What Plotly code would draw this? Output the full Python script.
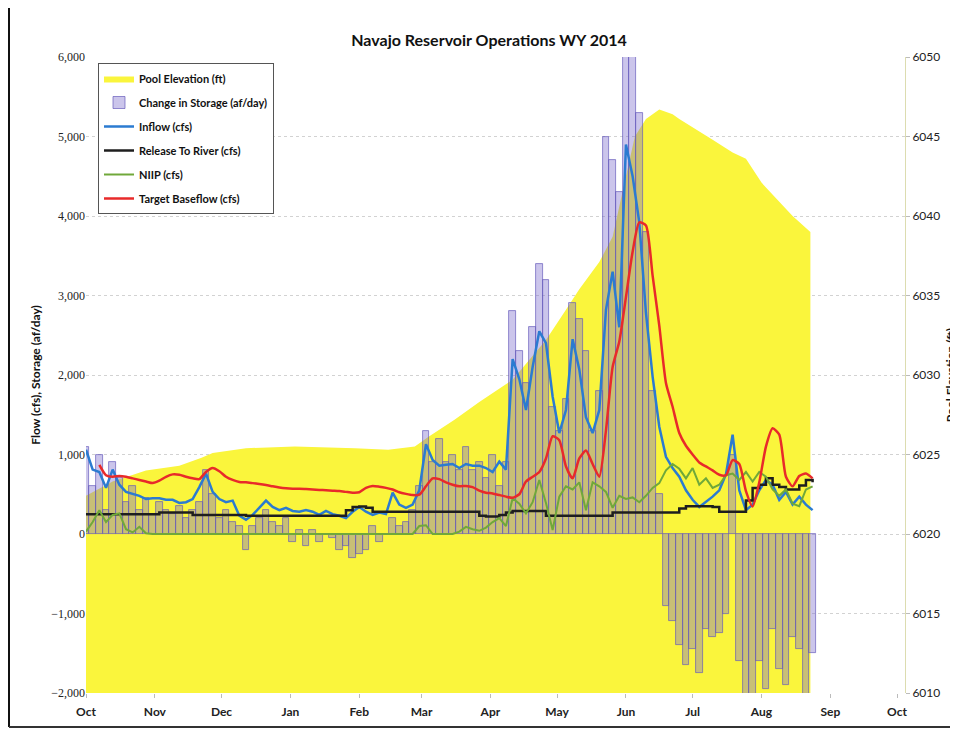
import pandas as pd
import plotly.graph_objects as go

# ---------------- data ----------------
# series sampled every 3 days from 2013-10-01
dates = pd.date_range("2013-10-01", periods=110, freq="3D")

inflow = [
    1060, 810, 780, 580, 810, 620, 530, 500, 480, 440,
    450, 450, 430, 430, 390, 400, 440, 590, 760, 530,
    440, 400, 420, 230, 180, 240, 330, 420, 340, 300,
    330, 290, 280, 300, 280, 240, 290, 250, 230, 200,
    280, 340, 280, 240, 270, 250, 520, 370, 330, 370,
    550, 1130, 930, 860, 870, 880, 830, 880, 860, 860,
    830, 780, 910, 810, 2200, 1950, 1560, 2100, 2550, 2400,
    1730, 1270, 1560, 2450, 2070, 1470, 1270, 1560, 2820, 3300,
    2600, 4900, 4500, 3920, 2780, 1980, 1350, 970, 830, 720,
    550, 430, 340, 400, 470, 550, 750, 1250, 550, 300,
    370, 550, 680, 620, 430, 530, 370, 470, 370, 300,
]

release = [
    250, 250, 250, 250, 250, 250, 250, 250, 250, 250,
    250, 270, 270, 270, 270, 270, 240, 240, 240, 240,
    240, 240, 240, 240, 230, 230, 230, 230, 230, 230,
    230, 230, 230, 230, 230, 230, 230, 230, 230, 300,
    340, 345, 330, 280, 280, 280, 280, 280, 280, 280,
    280, 280, 280, 280, 280, 280, 280, 280, 280, 230,
    220, 220, 240, 270, 290, 290, 290, 290, 290, 230,
    230, 230, 230, 230, 230, 230, 230, 230, 230, 270,
    270, 270, 270, 270, 270, 270, 270, 270, 270, 320,
    350, 350, 350, 350, 340, 280, 280, 280, 280, 420,
    580, 620, 700, 620, 590, 560, 560, 610, 680, 650,
]

niip = [
    30, 150, 300, 150, 240, 260, 60, 20, 90, 10,
    0, 0, 0, 0, 0, 0, 0, 0, 0, 0,
    0, 0, 0, 0, 0, 0, 0, 0, 0, 0,
    0, 0, 0, 0, 0, 0, 0, 0, 0, 0,
    0, 0, 0, 0, 0, 0, 0, 0, 0, 0,
    100, 110, 0, 0, 0, 0, 30, 90, 60, 40,
    80, 150, 200, 100, 450, 380, 260, 400, 680, 390,
    50, 470, 600, 560, 650, 300, 650, 600, 530, 330,
    480, 440, 460, 400, 480, 580, 640, 800, 880, 820,
    700, 830, 620, 700, 580, 620, 740, 760, 680, 780,
    660, 780, 720, 560, 480, 560, 380, 350, 560, 600,
]

target = [
    None, None, 870, 740, 720, 730, 720, 700, 680, 660,
    640, 670, 720, 750, 745, 720, 700, 690, 780, 830,
    790, 720, 680, 655, 650, 640, 630, 617, 600, 585,
    575, 570, 570, 565, 560, 555, 550, 545, 540, 530,
    520, 525, 580, 605, 595, 580, 560, 525, 505, 490,
    495, 600, 700, 690, 650, 620, 600, 605, 590, 545,
    520, 510, 490, 470, 455, 500, 660, 720, 780, 950,
    1230, 1180, 850, 700, 950, 1050, 880, 720, 1300, 2100,
    2420, 2980, 3550, 3920, 3880, 3250, 2620, 1900, 1600, 1270,
    1110, 1000, 900, 850, 800, 745, 740, 930, 880, 540,
    345, 650, 1100, 1330, 1250, 720, 600, 730, 760, 700,
]

storage = [
    1100, 600, 1000, 300, 900, 700, 400, 600, 300, 450,
    250, 400, 300, 250, 350, 200, 300, 400, 800, 500,
    200, 300, 150, 100, -200, 100, 200, 300, 150, 100,
    200, -100, 50, -150, 50, -100, 0, -50, -200, -150,
    -300, -250, -200, 100, -100, 0, 200, 100, 150, 300,
    600, 1300, 900, 1200, 900, 1000, 800, 1100, 800, 900,
    700, 1000, 600, 900, 2800, 2300, 1900, 2600, 3400, 3200,
    1600, 1300, 1700, 2900, 2700, 2300, 1300, 1800, 5000, 4700,
    4300, 6500, 6500, 5300, 3800, 1800, 500, -900, -1100, -1400,
    -1650, -1450, -1750, -1200, -1300, -1250, -1000, 1000, -1600, -2100,
    -2200, -1600, -1950, -1200, -1700, -1900, -1300, -1450, -2100, -1500,
]

pool_dates = [
    "2013-10-01", "2013-10-13", "2013-10-28", "2013-11-12", "2013-11-22",
    "2013-11-27", "2013-12-12", "2013-12-27", "2014-01-03", "2014-01-30",
    "2014-02-14", "2014-02-26", "2014-03-04", "2014-03-16", "2014-03-27",
    "2014-04-11", "2014-04-20", "2014-04-26", "2014-05-05", "2014-05-11",
    "2014-05-20", "2014-05-26", "2014-05-29", "2014-06-05", "2014-06-10",
    "2014-06-16", "2014-06-22", "2014-06-25", "2014-07-10", "2014-07-19",
    "2014-07-25", "2014-08-01", "2014-08-09", "2014-08-15", "2014-08-23",
]
pool_elev = [
    6022.4, 6023.3, 6024.0, 6024.3, 6024.8,
    6025.1, 6025.4, 6025.5, 6025.5, 6025.4,
    6025.3, 6025.5, 6026.1, 6027.2, 6028.3,
    6029.7, 6031.2, 6032.2, 6034.1, 6035.4,
    6037.1, 6038.7, 6040.6, 6045.0, 6046.1,
    6046.7, 6046.4, 6046.1, 6044.8, 6044.0,
    6043.6, 6042.1, 6040.9, 6040.0, 6039.0,
]

names = [
    "Pool Elevation (ft)", "Change in Storage (af/day)", "Inflow (cfs)",
    "Release To River (cfs)", "NIIP (cfs)", "Target Baseflow (cfs)",
]

# ---------------- figure ----------------
OFF = 8                      # page body margin of the browser
W, H = 958 - OFF, 729 - OFF
ML, MT = 86 - OFF, 57 - OFF
PW, PH = 819, 636
MR, MB = W - ML - PW, H - MT - PH

YELLOW = "rgb(250,245,60)"
FONT = "Lato"

fig = go.Figure()

fig.add_trace(go.Scatter(
    x=pool_dates, y=pool_elev, name=names[0], mode="lines",
    line=dict(width=0, color=YELLOW), fill="tozeroy", fillcolor=YELLOW,
    yaxis="y", legendgroup="g1",
))
fig.add_trace(go.Bar(
    x=dates, y=storage, name=names[1], width=3 * 86400000,
    marker=dict(color="rgba(125,110,205,0.40)",
                line=dict(color="rgba(100,88,185,0.85)", width=0.8)),
    yaxis="y2", legendgroup="g2",
))
fig.add_trace(go.Scatter(
    x=dates, y=inflow, name=names[2], mode="lines",
    line=dict(color="#2b7bd1", width=2.5), yaxis="y2", legendgroup="g3",
))
fig.add_trace(go.Scatter(
    x=dates, y=release, name=names[3], mode="lines",
    line=dict(color="#1e1e1e", width=2.5, shape="hv"), yaxis="y2", legendgroup="g4",
))
fig.add_trace(go.Scatter(
    x=dates, y=niip, name=names[4], mode="lines",
    line=dict(color="#70a83a", width=2), yaxis="y2", legendgroup="g5",
))
fig.add_trace(go.Scatter(
    x=dates, y=target, name=names[5], mode="lines",
    line=dict(color="#e82a2a", width=2.5, shape="spline", smoothing=0.6),
    yaxis="y2", legendgroup="g6",
))

def px_x(p):
    """screen x pixel -> paper coordinate"""
    return (p - OFF - ML) / PW

def px_y(p):
    """screen y pixel -> paper coordinate"""
    return (H - MB - (p - OFF)) / PH

fig.update_layout(
    width=W, height=H, autosize=False,
    margin=dict(l=ML, r=MR, t=MT, b=MB, pad=0),
    paper_bgcolor="white", plot_bgcolor="white",
    font=dict(family=FONT, color="#222"),
    title=dict(text="Navajo Reservoir Operations WY 2014",
               font=dict(family=FONT, size=16, color="#111", weight="bold"),
               x=(489 - OFF) / W, xanchor="center", y=1 - (40 - OFF) / H, yanchor="middle"),
    showlegend=True,
    legend=dict(x=px_x(98), y=px_y(63), xanchor="left", yanchor="top",
                bgcolor="white", bordercolor="#555", borderwidth=1,
                font=dict(family=FONT, size=11, color="#111", weight="bold"),
                traceorder="grouped", tracegroupgap=5),
    bargap=0,
    xaxis=dict(type="date", range=["2013-10-01", "2014-10-04 14:00"],
               tick0="2013-10-01", dtick="M1", tickformat="%b",
               ticks="outside", ticklen=4, tickcolor="#bbb", automargin=False,
               ticklabelstandoff=4,
               showgrid=False, zeroline=False, showline=False,
               tickfont=dict(family=FONT, size=12, color="#222", weight="bold")),
    yaxis=dict(side="right", range=[6010, 6050], tick0=6010, dtick=5,
               showgrid=True, gridcolor="#d2d2d2", griddash="dot", gridwidth=1,
               zeroline=False, showline=True, linecolor="#dcdcb0", automargin=False,
               ticks="outside", ticklen=4, tickcolor="#bbb",
               tickfont=dict(family=FONT, size=12, color="#222"),
               title=dict(text="Pool Elevation (ft)", standoff=14,
                          font=dict(family=FONT, size=12, color="#111", weight="bold"))),
    yaxis2=dict(overlaying="y", side="left", anchor="x", range=[-2000, 6000],
                dtick=1000, tickformat=",d", showgrid=False, zeroline=False,
                showline=False, ticks="", automargin=False,
                tickfont=dict(family="Liberation Serif", size=12, color="#222"),
                title=dict(text="Flow (cfs), Storage (af/day)", standoff=8,
                           font=dict(family=FONT, size=12, color="#111", weight="bold"))),
    shapes=[
        dict(type="line", xref="paper", yref="paper",
             x0=px_x(9), x1=px_x(9), y0=px_y(8), y1=px_y(727),
             line=dict(color="#111", width=2)),
        dict(type="line", xref="paper", yref="paper",
             x0=px_x(9), x1=px_x(958), y0=px_y(727), y1=px_y(727),
             line=dict(color="#333", width=2)),
    ],
)

fig.write_html("out.html")
